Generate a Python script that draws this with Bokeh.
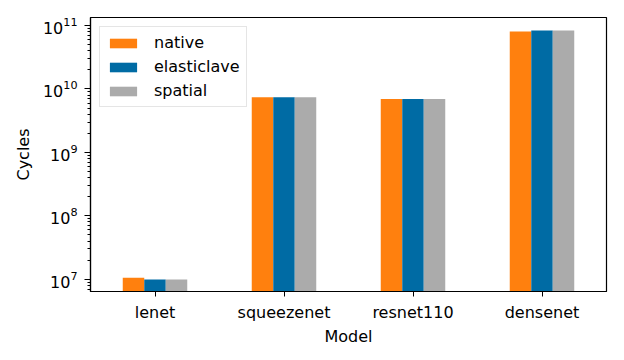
from bokeh.plotting import figure
from bokeh.models import ColumnDataSource, Range1d, FactorRange, Legend, LegendItem, LogTicker
from bokeh.transform import dodge
from bokeh.embed import file_html
from bokeh.resources import INLINE

models = ["lenet", "squeezenet", "resnet110", "densenet"]
native = [1.05e7, 7.4e9, 6.95e9, 8.05e10]
elasticlave = [0.99e7, 7.4e9, 6.95e9, 8.35e10]
spatial = [0.99e7, 7.4e9, 6.95e9, 8.35e10]
series_names = ["native", "elasticlave", "spatial"]
colors = ["#FF800E", "#006BA4", "#ABABAB"]

source = ColumnDataSource(dict(model=models, native=native, elasticlave=elasticlave,
                               spatial=spatial, base=[1.0] * len(models)))

FONT = "DejaVu Sans"
p = figure(width=616, height=352, x_range=FactorRange(*models),
           y_range=Range1d(6.4e6, 1.34e11), y_axis_type="log",
           output_backend="svg", toolbar_location=None,
           min_border_left=90, min_border_right=10, min_border_top=17, min_border_bottom=61)

bw = 0.5 / 3
renderers = []
for i, (name, col) in enumerate(zip(series_names, colors)):
    r = p.vbar(x=dodge("model", (i - 1) * bw, range=p.x_range), top=name, bottom="base",
               width=bw, source=source, fill_color=col, line_color=None)
    renderers.append(r)

p.xgrid.visible = False
p.ygrid.visible = False
p.outline_line_color = "black"
p.outline_line_width = 1.2

p.yaxis.ticker = LogTicker(num_minor_ticks=10)
for ax in (p.xaxis[0], p.yaxis[0]):
    ax.axis_line_color = "black"
    ax.axis_line_width = 1.2
    ax.major_tick_in = 0
    ax.major_tick_out = 5
    ax.minor_tick_in = 0
    ax.minor_tick_out = 3
    ax.major_tick_line_color = "black"
    ax.minor_tick_line_color = "black"
    ax.minor_tick_line_width = 1
    ax.major_label_text_font = FONT
    ax.major_label_text_font_size = "16px"
    ax.major_label_text_color = "black"
    ax.axis_label_text_font = FONT
    ax.axis_label_text_font_size = "16px"
    ax.axis_label_text_font_style = "normal"
    ax.axis_label_text_color = "black"

p.yaxis.major_tick_out = 6
p.xaxis.axis_label = "Model"
p.yaxis.axis_label = "Cycles"
p.xaxis.major_label_standoff = 6
p.xaxis.axis_label_standoff = 2
p.yaxis.major_label_standoff = 7
p.yaxis.axis_label_standoff = 7

legend = Legend(items=[LegendItem(label=n, renderers=[r]) for n, r in zip(series_names, renderers)],
                location="top_left")
legend.margin = 9
legend.padding = 6
legend.spacing = 5
legend.glyph_width = 34
legend.glyph_height = 12
legend.label_height = 19
legend.label_standoff = 14
legend.label_text_font = FONT
legend.label_text_font_size = "16px"
legend.label_text_color = "black"
legend.border_line_color = "#cccccc"
legend.border_line_width = 1
legend.background_fill_alpha = 0.8
p.add_layout(legend)

open("out.html", "w").write(file_html(p, INLINE))
